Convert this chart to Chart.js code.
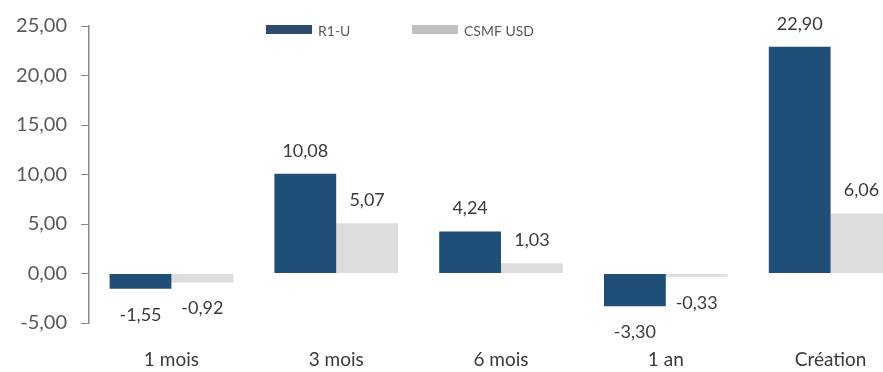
<!DOCTYPE html>
<html lang="fr">
<head>
<meta charset="utf-8">
<title>Performances R1-U / CSMF USD</title>
<script src="https://cdn.jsdelivr.net/npm/chart.js@4.4.1/dist/chart.umd.min.js"></script>
<style>
  html, body { margin: 0; padding: 0; background: #fff; overflow: hidden; }
  #wrap { width: 913px; height: 372px; }
</style>
</head>
<body>
<div id="wrap"><canvas id="perf-chart" width="913" height="372"></canvas></div>
<script>
"use strict";

const periods = ["1 mois", "3 mois", "6 mois", "1 an", "Création"];
const fundValues = [-1.55, 10.08, 4.24, -3.3, 22.9];
const benchValues = [-0.92, 5.07, 1.03, -0.33, 6.06];
const yTicks = [-5, 0, 5, 10, 15, 20, 25];

const fmt = (v) => v.toFixed(2).replace(".", ",");
const FONT = "Lato, 'Open Sans', sans-serif";

// valeurs au-dessus / au-dessous des barres
const valueLabels = {
  id: "valueLabels",
  afterDatasetsDraw(chart) {
    const ctx = chart.ctx;
    ctx.save();
    ctx.font = "18px " + FONT;
    ctx.fillStyle = "#3A3A3A";
    ctx.textAlign = "center";
    ctx.textBaseline = "middle";
    chart.data.datasets.forEach((ds, i) => {
      chart.getDatasetMeta(i).data.forEach((bar, j) => {
        const v = ds.data[j];
        const y = v >= 0 ? bar.y - 23 : bar.y + 26;
        ctx.fillText(fmt(v), bar.x, y);
      });
    });
    ctx.restore();
  },
};

// légende posée dans la zone du graphique
const topLegend = {
  id: "topLegend",
  afterDraw(chart) {
    const ctx = chart.ctx;
    const xs = [266, 412];
    ctx.save();
    ctx.font = "14px " + FONT;
    ctx.textBaseline = "middle";
    chart.data.datasets.forEach((ds, i) => {
      ctx.fillStyle = ds.legendColor;
      ctx.fillRect(xs[i], 25, 46, 9);
      ctx.fillStyle = "#595959";
      ctx.fillText(ds.label, xs[i] + 52, 31);
    });
    ctx.restore();
  },
};

new Chart(document.getElementById("perf-chart"), {
  type: "bar",
  data: {
    labels: periods,
    datasets: [
      {
        label: "R1-U",
        data: fundValues,
        backgroundColor: "#1F4E79",
        legendColor: "#2E4B6F",
      },
      {
        label: "CSMF USD",
        data: benchValues,
        backgroundColor: "#DCDCDC",
        legendColor: "#C0C0C0",
      },
    ],
  },
  options: {
    responsive: false,
    animation: false,
    layout: { padding: { top: 25, right: 0, bottom: 0, left: 0 } },
    datasets: {
      bar: { categoryPercentage: 0.75, barPercentage: 1.0 },
    },
    plugins: {
      legend: { display: false },
      tooltip: { enabled: false },
    },
    scales: {
      x: {
        grid: { display: false, drawTicks: false },
        border: { display: false },
        ticks: {
          color: "#3A3A3A",
          font: { family: FONT, size: 19 },
          padding: 25,
        },
        afterFit: (s) => { s.height = 49; },
      },
      y: {
        min: -5,
        max: 25,
        afterBuildTicks: (s) => { s.ticks = yTicks.map((v) => ({ value: v })); },
        grid: {
          drawOnChartArea: false,
          drawTicks: true,
          tickLength: 8,
          color: "#888888",
        },
        border: { display: true, color: "#888888", width: 1.5 },
        ticks: {
          color: "#595959",
          font: { family: FONT, size: 20 },
          padding: 14,
          callback: (v) => fmt(v),
        },
        afterFit: (s) => { s.width = 89; },
      },
    },
  },
  plugins: [valueLabels, topLegend],
});
</script>
</body>
</html>
